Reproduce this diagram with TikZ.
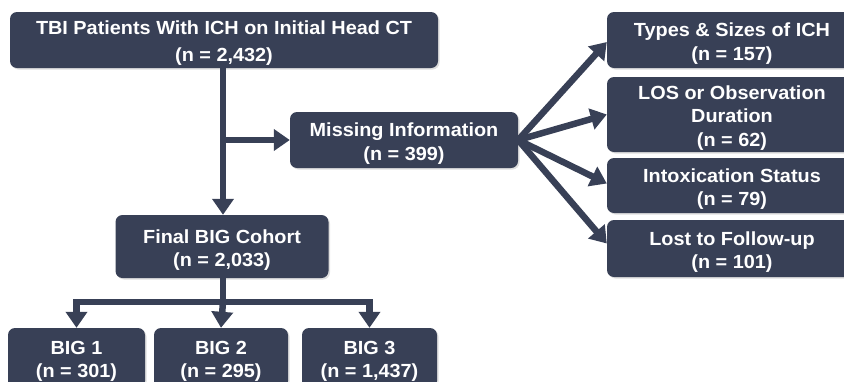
\documentclass[tikz,border=0pt]{standalone}
\usepackage{fontspec}
\setmainfont{Liberation Sans}[FakeStretch=1.045]
\usetikzlibrary{arrows.meta,shadows}
\definecolor{boxc}{RGB}{56,64,86}
\begin{document}
\begin{tikzpicture}[x=1pt,y=-1pt,
  box/.style={draw=none, fill=boxc, rounded corners=7pt, inner sep=0pt,
    drop shadow={opacity=0.25, shadow xshift=1.5pt, shadow yshift=-1.5pt}},
  txt/.style={text=white, align=center, inner sep=0pt, yshift=-3.5pt,
    font=\bfseries\fontsize{19}{23.5}\selectfont},
  conn/.style={draw=boxc, line width=6.5pt},
  arr/.style={conn, -{Triangle[length=16pt,width=21pt]}}
]
\useasboundingbox (0,0) rectangle (844,381);
\node[box, minimum width=428pt, minimum height=56pt,
  label={[txt, font=\bfseries\fontsize{19}{27}\selectfont]center:{TBI Patients With ICH on Initial Head CT\\(n = 2,432)}}] (top) at (224,40) {};
\node[box, minimum width=228pt, minimum height=56pt,
  label={[txt]center:{Missing Information\\(n = 399)}}] (miss) at (404,140) {};
\node[box, minimum width=213pt, minimum height=63pt,
  label={[txt]center:{Final BIG Cohort\\(n = 2,033)}}] (final) at (222,246.5) {};
\node[box, minimum width=137pt, minimum height=60pt,
  label={[txt]center:{BIG 1\\(n = 301)}}] (b1) at (76.5,358) {};
\node[box, minimum width=134pt, minimum height=60pt,
  label={[txt]center:{BIG 2\\(n = 295)}}] (b2) at (221,358) {};
\node[box, minimum width=135pt, minimum height=60pt,
  label={[txt]center:{BIG 3\\(n = 1,437)}}] (b3) at (369.5,358) {};
\node[box, minimum width=250pt, minimum height=56pt,
  label={[txt]center:{Types \& Sizes of ICH\\(n = 157)}}] (t1) at (732,40) {};
\node[box, minimum width=250pt, minimum height=75pt,
  label={[txt]center:{LOS or Observation\\Duration\\(n = 62)}}] (t2) at (732,114.5) {};
\node[box, minimum width=250pt, minimum height=55pt,
  label={[txt]center:{Intoxication Status\\(n = 79)}}] (t3) at (732,185.5) {};
\node[box, minimum width=250pt, minimum height=57pt,
  label={[txt]center:{Lost to Follow-up\\(n = 101)}}] (t4) at (732,248.5) {};
\coordinate (vx) at (223,0);
\draw[arr] (vx |- top.south) -- (vx |- final.north);
\draw[arr] (vx |- miss.west) -- (miss.west);
\draw[arr] (miss.east) -- ([yshift=-2pt]t1.west);
\draw[arr] (miss.east) -- (t2.west);
\draw[arr] (miss.east) -- ([yshift=2pt]t3.west);
\draw[arr] (miss.east) -- ([yshift=5pt]t4.west);
\coordinate (j) at (223,302);
\draw[conn] (vx |- final.south) -- (j);
\draw[arr] (j) -| (b1.north);
\draw[arr] (j) -| (b3.north);
\draw[arr] (j) -- (b2.north);
\end{tikzpicture}
\end{document}
